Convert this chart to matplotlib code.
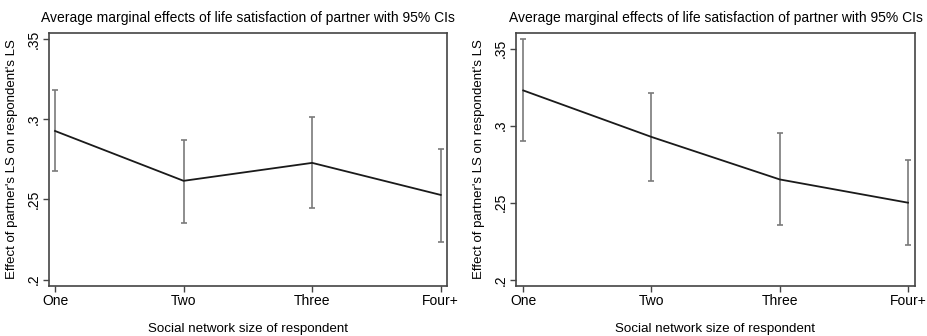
import matplotlib
matplotlib.use("Agg")
import matplotlib.pyplot as plt

categories = ["One", "Two", "Three", "Four+"]
positions = [1, 2, 3, 4]

left_est = [0.2927, 0.2616, 0.2728, 0.2528]
left_lo = [0.2680, 0.2354, 0.2444, 0.2236]
left_hi = [0.3183, 0.2871, 0.3016, 0.2815]

right_est = [0.3229, 0.2927, 0.2651, 0.2500]
right_lo = [0.2903, 0.2641, 0.2357, 0.2223]
right_hi = [0.3563, 0.3212, 0.2950, 0.2775]

yticks = [0.2, 0.25, 0.3, 0.35]
yticklabels = [".2", ".25", ".3", ".35"]

title = "Average marginal effects of life satisfaction of partner with 95% CIs"
xlabel = "Social network size of respondent"
ylabel = "Effect of partner's LS on respondent's LS"

plt.rcParams['font.family'] = ['Liberation Sans', 'DejaVu Sans']

fig = plt.figure(figsize=(9.28, 3.36), dpi=100)

panels = [
    ([0.0525, 0.1488, 0.4292, 0.7539], left_est, left_lo, left_hi, (0.951, 4.049), (0.196, 0.354)),
    ([0.5557, 0.1488, 0.4306, 0.7539], right_est, right_lo, right_hi, (0.941, 4.057), (0.1959, 0.3604)),
]

for rect, est, lo, hi, xl, yl in panels:
    ax = fig.add_axes(rect)
    yerr = [[e - l for e, l in zip(est, lo)], [h - e for e, h in zip(est, hi)]]
    ax.errorbar(positions, est, yerr=yerr, fmt='none', ecolor='#7a7a7a',
                elinewidth=1.2, capsize=2.3, capthick=1.2, zorder=2)
    ax.plot(positions, est, color='#1a1a1a', lw=1.3, zorder=3)
    ax.set_xlim(*xl)
    ax.set_ylim(*yl)
    ax.set_xticks(positions)
    ax.set_xticklabels(categories, fontsize=10)
    ax.set_yticks(yticks)
    ax.set_yticklabels(yticklabels, fontsize=10, rotation=90, va='center')
    ax.tick_params(axis='both', direction='out', length=4, width=1, color='#444444', pad=2)
    for s in ax.spines.values():
        s.set_color('#444444')
        s.set_linewidth(1.2)
    ax.set_title(title, fontsize=10, pad=8)
    ax.set_xlabel(xlabel, fontsize=9.6, labelpad=10.5)
    ax.set_ylabel(ylabel, fontsize=9.5, labelpad=6)

fig.savefig("out.png", dpi=100)
